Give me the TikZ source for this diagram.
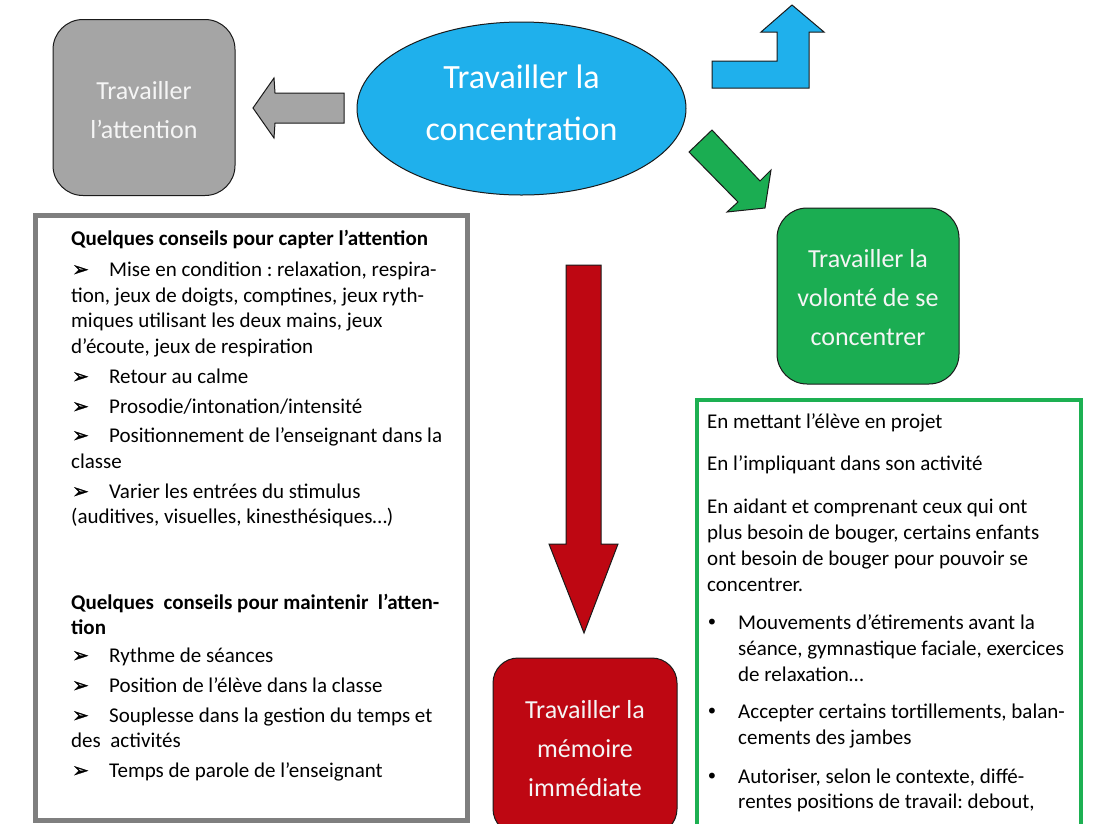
\documentclass[tikz,border=0pt]{standalone}
\usepackage{fontspec}
\setmainfont{Carlito}
\newfontfamily\djv{DejaVu Sans}
\newfontfamily\djvb{DejaVu Sans}[FakeBold=1.5]
\usetikzlibrary{shapes.geometric}
\definecolor{outl}{HTML}{1A1A1A}
\definecolor{grayf}{HTML}{A5A5A5}
\definecolor{bluef}{HTML}{1FB0EC}
\definecolor{greenf}{HTML}{1BAD52}
\definecolor{redf}{HTML}{BE0712}
\definecolor{grayb}{HTML}{7F7F7F}
\definecolor{greenb}{HTML}{1DB052}
\newcommand\myarr{{\djvb\fontsize{20}{26}\selectfont ➢}}
\newcommand\mydot{{\djv\fontsize{20}{26}\selectfont •}}
\tikzset{
  rbox/.style={draw=outl, line width=1pt, rounded corners=30pt, minimum width=182pt,
    minimum height=176pt, inner sep=0pt},
  boxcap/.style={text=white!96!black, align=center, font=\fontsize{26}{39}\selectfont, inner sep=0pt},
  blk/.style={draw=outl, line width=1pt, line join=miter},
  ltxt/.style={anchor=base west, inner sep=0pt, font=\fontsize{21}{26}\selectfont\frenchspacing},
}
\begin{document}
\frenchspacing
\begin{tikzpicture}[x=1pt,y=-1pt]
\useasboundingbox (0,0) rectangle (1105,823);
\clip (0,0) rectangle (1105,823);

% main shapes
\node[rbox, fill=grayf, label={[boxcap, yshift=-3pt]center:Travailler\\l’attention}] (att) at (144,107.5) {};
\node[ellipse, draw=outl, line width=1pt, fill=bluef, minimum width=329pt, minimum height=173pt,
  inner sep=0pt, label={[boxcap, text=white, font=\fontsize{34}{52}\selectfont, yshift=5.5pt]center:Travailler la\\concentration}]
  (conc) at (521.5,108.5) {};
\node[rbox, fill=greenf, label={[boxcap, yshift=-2pt]center:Travailler la\\volonté de se\\concentrer}] (vol) at (868,296) {};
\node[rbox, fill=redf, rounded corners=25pt, minimum width=184pt,
  label={[boxcap, yshift=-3pt]center:Travailler la\\mémoire\\immédiate}] (mem) at (585,746) {};

% block arrows
\draw[blk, fill=grayf] (344,93) -- (275,93) -- (274,78) -- (253,108) -- (274,138) -- (275,123) -- (344,123) -- cycle;
\draw[blk, fill=bluef] (712,61) -- (777,61) -- (777,32) -- (761,32) -- (792,5) -- (824,32) -- (809,32) -- (809,88) -- (712,88) -- cycle;
\draw[blk, fill=greenf] (712,130) -- (760,181) -- (771,170) -- (765,208) -- (727,212) -- (738,202) -- (689,152) -- cycle;
\draw[blk, fill=redf] (566,265) -- (601,265) -- (601,544) -- (618,544) -- (584,633) -- (549,544) -- (566,544) -- cycle;

% text frames
\draw[grayb, line width=5pt] (35,215) rectangle (467,820);
\draw[greenb, line width=4pt] (697,400) rectangle (1081,840);

% left frame text
\node[ltxt, font=\fontsize{21}{26}\selectfont\bfseries] (t1) at (71,245) {Quelques conseils pour capter l’attention};
\node[ltxt] (b1) at (72,276) {\myarr};
\node[ltxt] (t2) at (109,276) {Mise en condition : relaxation, respira-};
\node[ltxt] (t3) at (71,302) {tion, jeux de doigts, comptines, jeux ryth-};
\node[ltxt] (t4) at (71,327) {miques utilisant les deux mains, jeux};
\node[ltxt] (t5) at (71,353) {d’écoute, jeux de respiration};
\node[ltxt] (b2) at (72,383) {\myarr};
\node[ltxt] (t6) at (109,383) {Retour au calme};
\node[ltxt] (b3) at (72,413) {\myarr};
\node[ltxt] (t7) at (109,413) {Prosodie/intonation/intensité};
\node[ltxt] (b4) at (72,442) {\myarr};
\node[ltxt] (t8) at (109,442) {Positionnement de l’enseignant dans la};
\node[ltxt] (t9) at (71,468) {classe};
\node[ltxt] (b5) at (72,498) {\myarr};
\node[ltxt] (t10) at (109,498) {Varier les entrées du stimulus};
\node[ltxt] (t11) at (71,523) {(auditives, visuelles, kinesthésiques…)};

\node[ltxt, font=\fontsize{21}{26}\selectfont\bfseries] (t12) at (71,609) {Quelques\ \ conseils pour maintenir\ \ l’atten-};
\node[ltxt, font=\fontsize{21}{26}\selectfont\bfseries] (t13) at (71,634) {tion};
\node[ltxt] (b6) at (72,662) {\myarr};
\node[ltxt] (t14) at (109,662) {Rythme de séances};
\node[ltxt] (b7) at (72,692) {\myarr};
\node[ltxt] (t15) at (109,692) {Position de l’élève dans la classe};
\node[ltxt] (b8) at (72,722) {\myarr};
\node[ltxt] (t16) at (109,722) {Souplesse dans la gestion du temps et};
\node[ltxt] (t17) at (71,747) {des\ \ activités};
\node[ltxt] (b9) at (72,777) {\myarr};
\node[ltxt] (t18) at (109,777) {Temps de parole de l’enseignant};

% right frame text
\node[ltxt] (r1) at (707,428) {En mettant l’élève en projet};
\node[ltxt] (r2) at (707,470) {En l’impliquant dans son activité};
\node[ltxt] (r3) at (707,513) {En aidant et comprenant ceux qui ont};
\node[ltxt] (r4) at (707,539) {plus besoin de bouger, certains enfants};
\node[ltxt] (r5) at (707,565) {ont besoin de bouger pour pouvoir se};
\node[ltxt] (r6) at (707,591) {concentrer.};
\node[ltxt] (d1) at (706,629) {\mydot};
\node[ltxt] (r7) at (738,629) {Mouvements d’étirements avant la};
\node[ltxt] (r8) at (738,655) {séance, gymnastique faciale, exercices};
\node[ltxt] (r9) at (738,681) {de relaxation…};
\node[ltxt] (d2) at (706,718) {\mydot};
\node[ltxt] (r10) at (738,718) {Accepter certains tortillements, balan-};
\node[ltxt] (r11) at (738,744) {cements des jambes};
\node[ltxt] (d3) at (706,783) {\mydot};
\node[ltxt] (r12) at (738,783) {Autoriser, selon le contexte, diffé-};
\node[ltxt] (r13) at (738,808) {rentes positions de travail: debout,};
\end{tikzpicture}
\end{document}
